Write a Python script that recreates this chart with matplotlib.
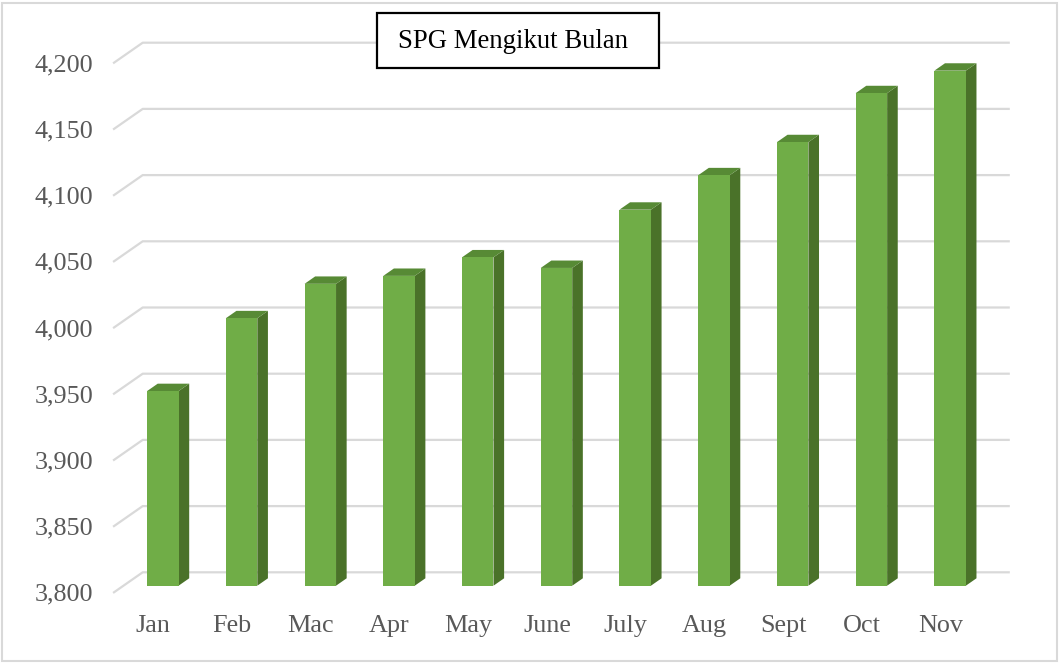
import matplotlib.pyplot as plt
import numpy as np
from matplotlib.patches import Polygon, Rectangle
from matplotlib.ticker import FuncFormatter

months = ['Jan', 'Feb', 'Mac', 'Apr', 'May', 'June', 'July', 'Aug', 'Sept', 'Oct', 'Nov']
spg = [3947, 4002, 4028, 4034, 4048, 4040, 4084, 4110, 4135, 4172, 4189]
yticks = [3800, 3850, 3900, 3950, 4000, 4050, 4100, 4150, 4200]

plt.rcParams['font.family'] = ['Liberation Serif', 'DejaVu Serif']

W, H = 1060, 663
fig = plt.figure(figsize=(W / 100, H / 100), dpi=100)
# axes = front plane of the 3d box (pixels)
left, right, top, bottom = 114, 980, 62.7, 592.3
ax = fig.add_axes([left / W, 1 - bottom / H, (right - left) / W, (bottom - top) / H])
ax.set_xlim(-0.5, 10.5)
ax.set_ylim(3800, 4200)
for s in ax.spines.values():
    s.set_visible(False)

# convert pixel offsets of the depth axis into data units
px_x = (right - left) / 11.0
px_y = (bottom - top) / 400.0
depth = np.array([28.7 / px_x, 20.0 / px_y])   # full depth vector
d_front, d_back = 0.33, 0.70                  # bar position in the depth

grid_c = '#d9d9d9'
for v in yticks:
    xs = [-0.5, -0.5 + depth[0], 10.5 + depth[0]]
    ys = [v, v + depth[1], v + depth[1]]
    ax.plot(xs, ys, color=grid_c, lw=1.6, clip_on=False, zorder=1)

x = np.arange(len(months))
w = 0.4
f = d_front * depth
b = d_back * depth
ax.bar(x + f[0], np.array(spg) - 3800, bottom=3800 + f[1], width=w,
       color='#70ad47', zorder=3, clip_on=False)
for xi, v in zip(x, spg):
    x0 = xi - w / 2
    x1 = xi + w / 2
    side = [(x1 + f[0], 3800 + f[1]), (x1 + b[0], 3800 + b[1]),
            (x1 + b[0], v + b[1]), (x1 + f[0], v + f[1])]
    topf = [(x0 + f[0], v + f[1]), (x1 + f[0], v + f[1]),
            (x1 + b[0], v + b[1]), (x0 + b[0], v + b[1])]
    ax.add_patch(Polygon(side, closed=True, facecolor='#4a7229', edgecolor='none',
                         zorder=2, clip_on=False))
    ax.add_patch(Polygon(topf, closed=True, facecolor='#578a35', edgecolor='none',
                         zorder=2, clip_on=False))

ax.set_yticks(yticks)
ax.yaxis.set_major_formatter(FuncFormatter(lambda v, p: f'{int(v):,}'))
ax.set_xticks(x, months)
ax.tick_params(axis='y', length=0, pad=15, labelsize=18.8, labelcolor='#595959')
ax.tick_params(axis='x', length=0, pad=16, labelsize=18.8, labelcolor='#595959')

# title box
fig.patches.append(Rectangle((377 / W, 1 - 68 / H), 282 / W, 55 / H, transform=fig.transFigure,
                             facecolor='white', edgecolor='black', lw=1.6, zorder=5))
fig.text(513 / W, 1 - 42 / H, 'SPG Mengikut Bulan', ha='center', va='center',
         fontsize=19.3, color='black', zorder=6)

# chart area border
fig.patches.append(Rectangle((2 / W, 2 / H), 1055 / W, 658 / H, transform=fig.transFigure,
                             facecolor='none', edgecolor='#d9d9d9', lw=1.5))

fig.savefig('out.png', dpi=100)
